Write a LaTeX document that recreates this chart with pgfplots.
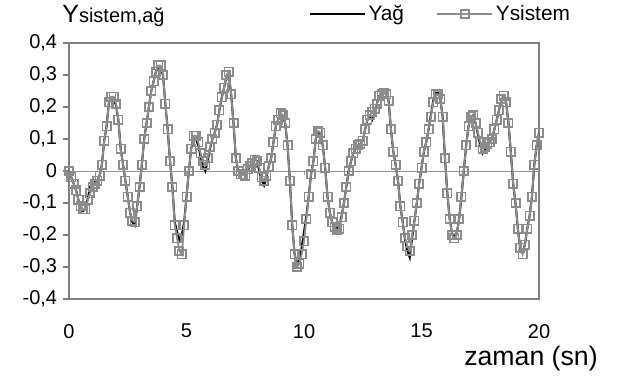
\documentclass[border=0pt]{standalone}
\usepackage{fontspec}
\setmainfont{Liberation Sans}
\usepackage{pgfplots}
\usepackage{pgfplotstable}
\pgfplotsset{compat=1.18}
\definecolor{framec}{RGB}{128,128,128}
\definecolor{sisc}{RGB}{140,140,140}
\definecolor{zlc}{RGB}{150,150,150}

\pgfplotstableread{
t sis yag
0.0 0.000 0.000
0.1 -0.020 -0.020
0.2 -0.040 -0.040
0.3 -0.060 -0.060
0.4 -0.090 -0.090
0.5 -0.110 -0.110
0.6 -0.120 -0.125
0.7 -0.120 -0.120
0.8 -0.090 -0.085
0.9 -0.070 -0.050
1.0 -0.050 -0.030
1.1 -0.040 -0.035
1.2 -0.030 -0.030
1.3 -0.015 -0.015
1.4 0.020 0.020
1.5 0.095 0.095
1.6 0.140 0.140
1.7 0.215 0.215
1.8 0.232 0.230
1.9 0.232 0.225
2.0 0.210 0.205
2.1 0.160 0.160
2.2 0.070 0.070
2.3 0.020 0.020
2.4 -0.030 -0.030
2.5 -0.080 -0.080
2.6 -0.130 -0.130
2.7 -0.155 -0.160
2.8 -0.160 -0.170
2.9 -0.110 -0.110
3.0 -0.050 -0.050
3.1 0.020 0.020
3.2 0.100 0.100
3.3 0.150 0.150
3.4 0.200 0.200
3.5 0.250 0.250
3.6 0.280 0.280
3.7 0.310 0.310
3.8 0.330 0.325
3.9 0.330 0.320
4.0 0.300 0.300
4.1 0.210 0.210
4.2 0.130 0.130
4.3 0.030 0.030
4.4 -0.050 -0.050
4.5 -0.170 -0.160
4.6 -0.210 -0.190
4.7 -0.250 -0.215
4.8 -0.260 -0.200
4.9 -0.170 -0.160
5.0 -0.080 -0.080
5.1 0.000 0.000
5.2 0.070 0.070
5.3 0.110 0.105
5.4 0.110 0.100
5.5 0.090 0.080
5.6 0.055 0.045
5.7 0.030 0.015
5.8 0.020 0.000
5.9 0.040 0.030
6.0 0.075 0.070
6.1 0.100 0.100
6.2 0.120 0.120
6.3 0.145 0.145
6.4 0.190 0.190
6.5 0.230 0.230
6.6 0.260 0.260
6.7 0.300 0.295
6.8 0.310 0.300
6.9 0.240 0.240
7.0 0.150 0.150
7.1 0.040 0.040
7.2 0.000 0.000
7.3 -0.010 -0.005
7.4 -0.010 -0.010
7.5 -0.015 -0.010
7.6 0.005 0.000
7.7 0.015 0.015
7.8 0.025 0.030
7.9 0.035 0.040
8.0 0.030 0.030
8.1 0.010 0.000
8.2 -0.020 -0.030
8.3 -0.030 -0.045
8.4 -0.015 -0.020
8.5 0.015 0.015
8.6 0.040 0.040
8.7 0.090 0.090
8.8 0.140 0.140
8.9 0.160 0.160
9.0 0.180 0.180
9.1 0.175 0.170
9.2 0.150 0.150
9.3 0.080 0.080
9.4 -0.030 -0.030
9.5 -0.170 -0.170
9.6 -0.260 -0.260
9.7 -0.300 -0.290
9.8 -0.290 -0.280
9.9 -0.260 -0.240
10.0 -0.220 -0.190
10.1 -0.150 -0.140
10.2 -0.080 -0.080
10.3 -0.010 -0.010
10.4 0.030 0.030
10.5 0.100 0.100
10.6 0.125 0.120
10.7 0.120 0.115
10.8 0.080 0.080
10.9 0.010 0.010
11.0 -0.080 -0.080
11.1 -0.130 -0.130
11.2 -0.160 -0.160
11.3 -0.175 -0.175
11.4 -0.185 -0.180
11.5 -0.180 -0.175
11.6 -0.145 -0.140
11.7 -0.100 -0.100
11.8 -0.050 -0.050
11.9 0.000 0.000
12.0 0.030 0.030
12.1 0.055 0.055
12.2 0.070 0.070
12.3 0.080 0.080
12.4 0.085 0.085
12.5 0.095 0.095
12.6 0.130 0.130
12.7 0.160 0.160
12.8 0.175 0.170
12.9 0.185 0.160
13.0 0.195 0.180
13.1 0.210 0.210
13.2 0.235 0.235
13.3 0.240 0.240
13.4 0.245 0.245
13.5 0.240 0.240
13.6 0.220 0.220
13.7 0.130 0.130
13.8 0.060 0.060
13.9 0.020 0.020
14.0 -0.030 -0.030
14.1 -0.110 -0.110
14.2 -0.160 -0.160
14.3 -0.210 -0.215
14.4 -0.235 -0.250
14.5 -0.250 -0.270
14.6 -0.200 -0.210
14.7 -0.155 -0.155
14.8 -0.100 -0.100
14.9 -0.040 -0.040
15.0 0.010 0.010
15.1 0.060 0.060
15.2 0.090 0.090
15.3 0.130 0.130
15.4 0.170 0.175
15.5 0.215 0.220
15.6 0.240 0.245
15.7 0.240 0.245
15.8 0.225 0.225
15.9 0.170 0.170
16.0 0.040 0.040
16.1 -0.070 -0.070
16.2 -0.150 -0.150
16.3 -0.200 -0.195
16.4 -0.210 -0.205
16.5 -0.200 -0.195
16.6 -0.150 -0.150
16.7 -0.080 -0.080
16.8 0.000 0.000
16.9 0.080 0.080
17.0 0.140 0.140
17.1 0.170 0.170
17.2 0.175 0.175
17.3 0.150 0.150
17.4 0.120 0.115
17.5 0.090 0.080
17.6 0.070 0.055
17.7 0.075 0.065
17.8 0.085 0.080
17.9 0.090 0.090
18.0 0.100 0.100
18.1 0.130 0.130
18.2 0.160 0.160
18.3 0.190 0.190
18.4 0.225 0.225
18.5 0.235 0.235
18.6 0.215 0.215
18.7 0.150 0.150
18.8 0.060 0.060
18.9 -0.040 -0.040
19.0 -0.100 -0.100
19.1 -0.180 -0.180
19.2 -0.240 -0.245
19.3 -0.260 -0.255
19.4 -0.230 -0.230
19.5 -0.180 -0.180
19.6 -0.140 -0.140
19.7 -0.080 -0.080
19.8 0.020 0.020
19.9 0.080 0.080
20.0 0.120 0.120
}\datatab

\begin{document}
\begin{tikzpicture}
\path[use as bounding box] (-41.4pt,-48.6pt) rectangle (334.8pt,179.4pt);
\begin{axis}[
  at={(0,0)}, anchor=south west,
  scale only axis, width=282pt, height=153.6pt,
  xmin=0, xmax=20, ymin=-0.4, ymax=0.4,
  xtick={0,5,10,15,20},
  ytick={-0.4,-0.3,-0.2,-0.1,0,0.1,0.2,0.3,0.4},
  axis line style={framec, line width=1.2pt},
  tick align=outside,
  major tick length=3.6pt,
  ytick style={framec, line width=0.8pt},
  xtick style={draw=none},
  ytick pos=left, xtick pos=bottom,
  /pgf/number format/use comma,
  /pgf/number format/fixed,
  /pgf/number format/precision=1,
  /pgf/number format/assume math mode=true,
  ticklabel style={font=\fontsize{12}{14}\selectfont, text=black},
  xticklabel style={yshift=-8pt},
  clip=false,
  legend style={at={(rel axis cs:0.51,1.113)}, anchor=west, draw=none, fill=none,
     inner sep=0pt, font=\fontsize{12.5}{15}\selectfont,
     legend columns=2, /tikz/every even column/.append style={column sep=18pt},
     nodes={inner sep=1.5pt}},
  legend image code/.code={\draw[mark repeat=2,mark phase=2,#1] plot coordinates {(0pt,0pt) (16.5pt,0pt) (33pt,0pt)};},
]
\addplot[zlc, line width=0.6pt, forget plot] coordinates {(0,0) (20,0)};
\draw[zlc, line width=0.6pt] (axis cs:5,0) -- ++(0pt,-2.4pt);
\draw[zlc, line width=0.6pt] (axis cs:10,0) -- ++(0pt,-2.4pt);
\draw[zlc, line width=0.6pt] (axis cs:15,0) -- ++(0pt,-2.4pt);
\addplot[black, line width=1.2pt, no markers] table[x=t, y=yag] {\datatab};
\addlegendentry{Yağ}
\addplot[sisc, line width=1.1pt, mark=square, mark size=2.5pt,
  mark options={solid, fill=white, draw=sisc, line width=1pt}] table[x=t, y=sis] {\datatab};
\addlegendentry{Ysistem}
\end{axis}
\node[anchor=base west, inner sep=0pt] at (-4.2pt,166.2pt) {{\fontsize{15}{18}\selectfont Y}{\fontsize{12}{14}\selectfont sistem,ağ}};
\node[anchor=base east, inner sep=0pt] at (317.4pt,-40pt) {\fontsize{16}{19}\selectfont zaman (sn)};
\end{tikzpicture}
\end{document}
